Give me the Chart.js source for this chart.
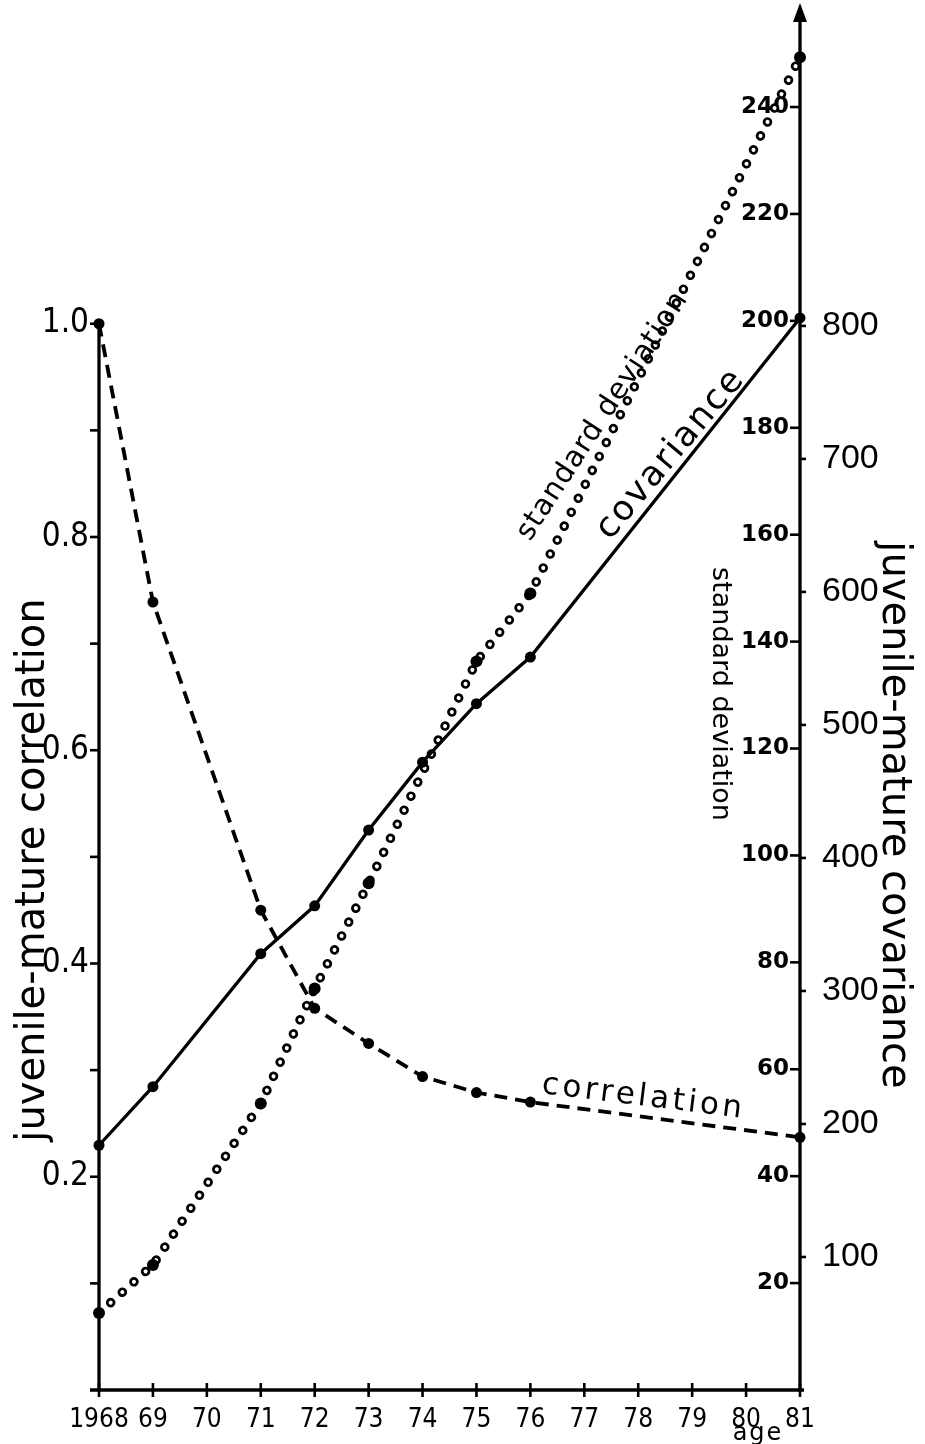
<!DOCTYPE html>
<html><head><meta charset="utf-8">
<script src="https://cdn.jsdelivr.net/npm/chart.js@4/dist/chart.umd.min.js"></script>
<style>html,body{margin:0;padding:0;background:#fff;}canvas{display:block;}</style>
</head><body>
<canvas id="c" width="925" height="1444"></canvas>
<script>
// ---- data ----
const xTickValues = [1968,1969,1970,1971,1972,1973,1974,1975,1976,1977,1978,1979,1980,1981];
const xTickLabels = ['1968','69','70','71','72','73','74','75','76','77','78','79','80','81'];

const corrYears  = [1968,1969,1971,1972,1973,1974,1975,1976,1981];
const corrValues = [1.0,0.739,0.450,0.358,0.325,0.294,0.279,0.270,0.237];

const covYears  = [1968,1969,1971,1972,1973,1974,1975,1976,1981];
const covValues = [184,228,328,364,421,472,516,551,806];

const sdYears  = [1968,1969,1971,1972,1973,1975,1976,1981];
const sdValues = [14.4,23.4,53.6,75.1,94.8,136.3,149.0,249.3];

const corrTicks = [0.1,0.2,0.3,0.4,0.5,0.6,0.7,0.8,0.9,1.0];
const corrTickLabels = ['','0.2','','0.4','','0.6','','0.8','','1.0'];
const sdTicks = [20,40,60,80,100,120,140,160,180,200,220,240];
const covTicks = [100,200,300,400,500,600,700,800];

const NARROW = "'DejaVu Sans Condensed','Liberation Sans',sans-serif";

function pts(xs, ys){ return xs.map((x,i)=>({x:x, y:ys[i]})); }
function setTicks(vals){ return function(s){ s.ticks = vals.map(v=>({value:v})); }; }
function zeroPad(s){ s.paddingTop=0; s.paddingBottom=0; s.paddingLeft=0; s.paddingRight=0; }

const axesPlugin = {
  id:'axesPlugin',
  beforeDatasetsDraw(chart){
    const ctx = chart.ctx, a = chart.chartArea;
    const xs = chart.scales.x, yc = chart.scales.yCorr, ys = chart.scales.ySD, yv = chart.scales.yCov;
    ctx.save();
    ctx.strokeStyle='#000'; ctx.fillStyle='#000'; ctx.lineCap='butt';
    const L=(x1,y1,x2,y2)=>{ctx.beginPath();ctx.moveTo(x1,y1);ctx.lineTo(x2,y2);ctx.stroke();};
    ctx.lineWidth=3.3;
    L(a.left, yc.getPixelForValue(1.0)-2, a.left, a.bottom+1.5);
    L(a.left-9, a.bottom, a.right+4, a.bottom);
    L(a.right, a.bottom+1.5, a.right, a.top+12);
    ctx.beginPath();
    ctx.moveTo(a.right, a.top-3); ctx.lineTo(a.right-7, a.top+16); ctx.lineTo(a.right+7, a.top+16); ctx.closePath(); ctx.fill();
    ctx.lineWidth=2.6;
    corrTicks.forEach(v=>{const p=yc.getPixelForValue(v); L(a.left-9,p,a.left,p);});
    sdTicks.forEach(v=>{const p=ys.getPixelForValue(v); L(a.right-10,p,a.right,p);});
    covTicks.forEach(v=>{const p=yv.getPixelForValue(v); L(a.right,p,a.right+6,p);});
    xTickValues.forEach(v=>{const p=xs.getPixelForValue(v); L(p,a.bottom-7,p,a.bottom+7);});
    ctx.restore();
  },
  afterDraw(chart){
    const ctx = chart.ctx;
    ctx.save(); ctx.fillStyle='#000';
    const T=(txt,x,y,ang,font,align,ls)=>{
      ctx.save(); ctx.translate(x,y); ctx.rotate(ang*Math.PI/180);
      ctx.font=font; ctx.textAlign=align||'left'; ctx.textBaseline='alphabetic';
      ctx.letterSpacing = ls||'0px';
      ctx.fillText(txt,0,0); ctx.restore();
    };
    T('juvenile-mature correlation', 44, 870, -90, '40px "DejaVu Sans"', 'center');
    T('juvenile-mature covariance', 883, 815, 90, '40px "DejaVu Sans"', 'center');
    T('standard deviation', 713, 694, 90, '27px "DejaVu Sans"', 'center');
    T('standard deviation', 530, 542, -57, '29px "DejaVu Sans"', 'left', '1px');
    T('covariance', 610, 541, -50, '35px "DejaVu Sans"', 'left', '2px');
    T('correlation', 541, 1093, 7, '31px "DejaVu Sans"', 'left', '3.5px');
    T('age', 758, 1440, 0, '24px "DejaVu Sans"', 'center', '2px');
    ctx.restore();
  }
};

new Chart(document.getElementById('c'), {
  type:'line',
  data:{ datasets:[
    { label:'correlation', data:pts(corrYears,corrValues), yAxisID:'yCorr',
      borderColor:'#000', borderWidth:3.8, borderDash:[13,8], pointRadius:5.5,
      pointBackgroundColor:'#000', pointBorderWidth:0, tension:0, fill:false, clip:false, order:1 },
    { label:'covariance', data:pts(covYears,covValues), yAxisID:'yCov',
      borderColor:'#000', borderWidth:3.3, pointRadius:5.5,
      pointBackgroundColor:'#000', pointBorderWidth:0, tension:0, fill:false, clip:false, order:2 },
    { label:'standard deviation', data:pts(sdYears,sdValues), yAxisID:'ySD',
      borderColor:'#000', borderWidth:9.5, borderDash:[0.1,15.5], borderCapStyle:'round',
      pointRadius:0, tension:0, fill:false, clip:false, order:5 },
    { label:'sd-hollow', data:pts(sdYears,sdValues), yAxisID:'ySD',
      borderColor:'#fff', borderWidth:4, borderDash:[0.1,15.5], borderCapStyle:'round',
      pointRadius:0, tension:0, fill:false, clip:false, order:4 },
    { label:'sd-points', data:pts(sdYears,sdValues), yAxisID:'ySD', showLine:false,
      pointRadius:6, pointBackgroundColor:'#000', pointBorderWidth:0, clip:false, order:0 }
  ]},
  options:{
    responsive:false, animation:false, devicePixelRatio:1,
    layout:{ padding:{ top:5, left:0, right:0, bottom:0 } },
    plugins:{ legend:{display:false}, tooltip:{enabled:false} },
    events:[],
    scales:{
      x:{ type:'linear', position:'bottom', min:1968, max:1981,
        afterBuildTicks:setTicks(xTickValues),
        afterFit(s){ s.height=54; zeroPad(s); },
        grid:{display:false, drawTicks:false}, border:{display:false},
        ticks:{ color:'#000', font:{family:NARROW, size:26}, padding:15, maxRotation:0, autoSkip:false,
          callback:(v)=>xTickLabels[xTickValues.indexOf(v)] } },
      yCorr:{ type:'linear', position:'left', min:0, max:1.298,
        afterBuildTicks:setTicks(corrTicks),
        afterFit(s){ s.width=99; zeroPad(s); },
        grid:{display:false, drawTicks:false}, border:{display:false},
        ticks:{ color:'#000', font:{family:NARROW, size:33}, padding:10, autoSkip:false,
          callback:(v)=>corrTickLabels[corrTicks.findIndex(t=>Math.abs(t-v)<1e-6)] } },
      ySD:{ type:'linear', position:'right', weight:0, min:0, max:258.9,
        afterBuildTicks:setTicks(sdTicks),
        afterFit(s){ s.width=0; zeroPad(s); },
        grid:{display:false, drawTicks:false}, border:{display:false},
        ticks:{ color:'#000', mirror:true, font:{family:'DejaVu Sans', size:23, weight:'bold'}, padding:-11, autoSkip:false } },
      yCov:{ type:'linear', position:'right', weight:1, min:0, max:1040.5,
        afterBuildTicks:setTicks(covTicks),
        afterFit(s){ s.width=125; zeroPad(s); },
        grid:{display:false, drawTicks:false}, border:{display:false},
        ticks:{ color:'#000', font:{family:'Liberation Sans', size:34}, padding:22, autoSkip:false } }
    }
  },
  plugins:[axesPlugin]
});
</script>
</body></html>
